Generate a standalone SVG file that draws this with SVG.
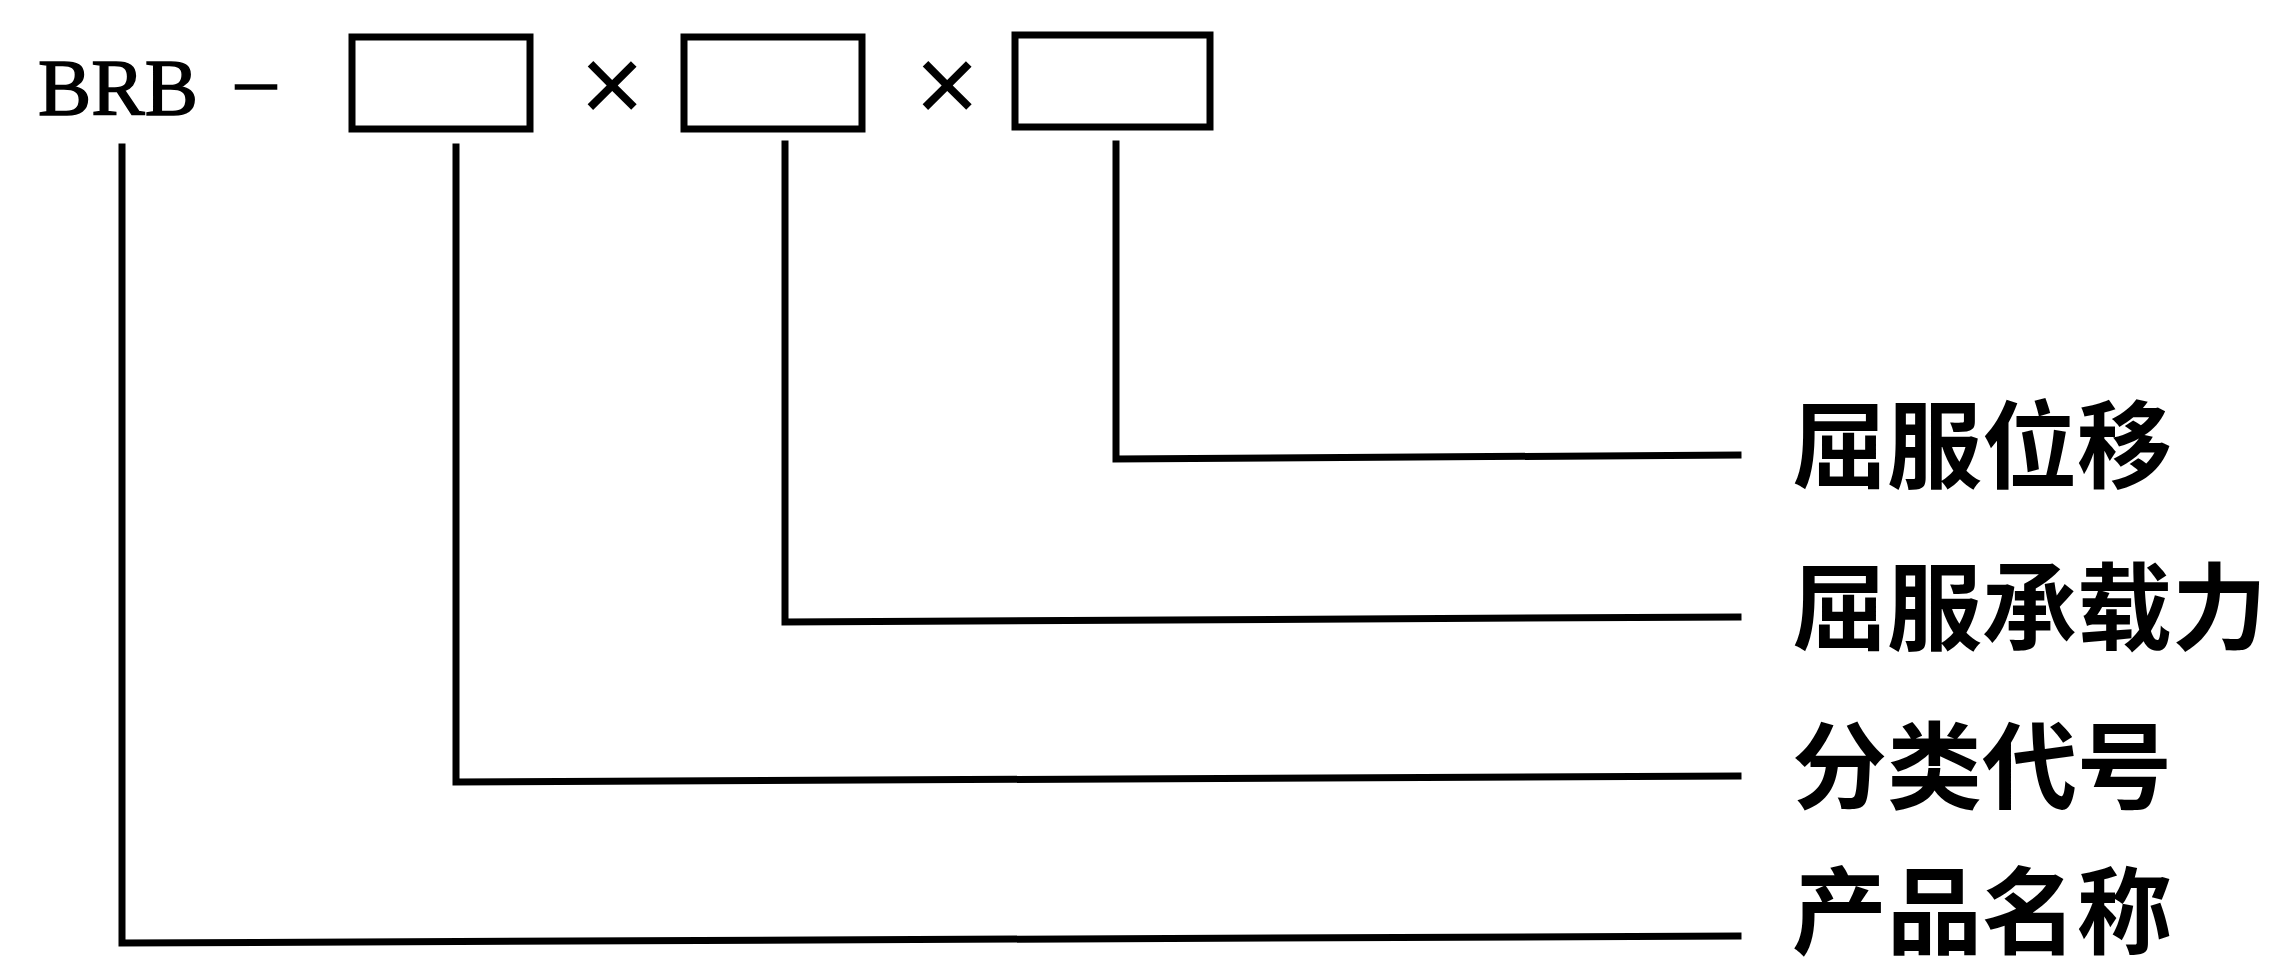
<svg xmlns="http://www.w3.org/2000/svg" width="2275" height="974" viewBox="0 0 2275 974">
<style>
.box{fill:none;stroke:#000;stroke-width:7}
.ln{fill:none;stroke:#000;stroke-width:7;stroke-linejoin:miter;stroke-linecap:square}
.lat{font-family:"Liberation Serif",serif;font-size:80px;fill:#000;stroke:#000;stroke-width:1.5}
.x{font-family:"Liberation Sans",sans-serif;font-size:110px;fill:#000;text-anchor:middle}
.lbl{font-family:"Noto Sans CJK SC",sans-serif;font-weight:bold;font-size:95px;fill:#000}
</style>
<rect width="2275" height="974" fill="#fff"/>
<g id="code">
<text class="lat" x="38" y="115">BRB</text>
<text class="lat" x="236" y="106">–</text>
</g>
<g id="box1"><rect class="box" x="352" y="37" width="178" height="92"/></g>
<text class="x" x="612" y="122">×</text>
<g id="box2"><rect class="box" x="684" y="37" width="178" height="92"/></g>
<text class="x" x="947" y="122">×</text>
<g id="box3"><rect class="box" x="1015" y="35" width="195" height="92"/></g>
<g id="connectors">
<polyline class="ln" points="1116,144 1116,459 1738,455"/>
<polyline class="ln" points="785,144 785,622 1738,617"/>
<polyline class="ln" points="456,147 456,782 1738,776"/>
<polyline class="ln" points="122,147 122,943 1738,936"/>
</g>
<g id="label1"><text class="lbl" x="1792" y="481">屈服位移</text></g>
<g id="label2"><text class="lbl" x="1792" y="643">屈服承载力</text></g>
<g id="label3"><text class="lbl" x="1792" y="802">分类代号</text></g>
<g id="label4"><text class="lbl" x="1792" y="947">产品名称</text></g>
</svg>
